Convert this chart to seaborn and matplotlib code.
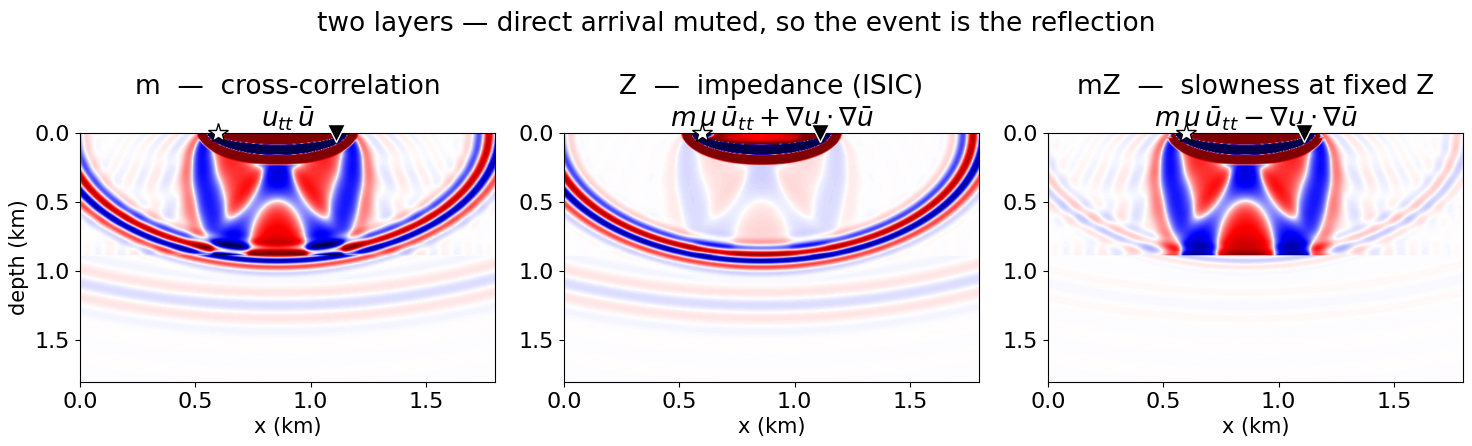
import numpy as np
import matplotlib
matplotlib.use("Agg")
import matplotlib.pyplot as plt
import seaborn as sns

# geometry (km)
src_x = 0.60
rec_x = 1.11
interface_z = 0.89
x_range = [0.0, 1.8]
z_range = [0.0, 1.8]
tick_vals = [0.0, 0.5, 1.0, 1.5]

# reflection isochron: centre (sum of distances), period, envelope width
iso_ring = [1.88, 0.19, 0.15]
# lower-layer rings: centre of curvature depth, radius, period, width
low_ring = [-1.10, 2.35, 0.20, 0.17]
# rabbit-ear Fresnel zone: period, phase, decay width, tail weight, tail decay
ear_zone = [0.125, 0.80, 0.095, 0.06, 0.3]
# muted direct arrival under the surface: period in sqrt(t), first peak, cutoff
top_band = [0.27, 0.1055, 0.40]

suptitle = "two layers \u2014 direct arrival muted, so the event is the reflection"
panel_titles = [
    "m  \u2014  cross-correlation\n$u_{tt}\\,\\bar{u}$",
    "Z  \u2014  impedance (ISIC)\n$m\\,u\\,\\bar{u}_{tt} + \\nabla u \\cdot \\nabla \\bar{u}$",
    "mZ  \u2014  slowness at fixed Z\n$m\\,u\\,\\bar{u}_{tt} - \\nabla u \\cdot \\nabla \\bar{u}$",
]
iso_gain = [0.80, 0.85, 0.10]
ear_gain = [1.30, 0.20, 1.30]
low_gain = [0.07, 0.07, 0.015]
top_gain = [6.0, 6.0, 6.0]

sns.set_style("ticks")
plt.rcParams["font.family"] = ["DejaVu Sans"]
for key in ["text.color", "axes.labelcolor", "xtick.color", "ytick.color", "axes.edgecolor"]:
    plt.rcParams[key] = "black"

n = 361
x = np.linspace(x_range[0], x_range[1], n)
z = np.linspace(z_range[0], z_range[1], n)
X, Z = np.meshgrid(x, z)
xm = 0.5 * (src_x + rec_x)

d_s = np.hypot(X - src_x, Z)
d_r = np.hypot(X - rec_x, Z)
d_s_img = np.hypot(X - src_x, Z - 2 * interface_z)
d_r_img = np.hypot(X - rec_x, Z - 2 * interface_z)
path = np.hypot(rec_x - src_x, 2 * interface_z)

# isochron of the reflection
tau = d_s + d_r - iso_ring[0]
iso = -np.sin(2 * np.pi * tau / iso_ring[1]) * np.exp(-(tau / iso_ring[2]) ** 2)

# weak rings in the lower layer
r_low = np.hypot(X - xm, Z - low_ring[0]) - low_ring[1]
low = -np.cos(2 * np.pi * r_low / low_ring[2]) * np.exp(-(r_low / low_ring[3]) ** 2)
low = low * (Z > interface_z)


def fresnel(t):
    t = np.maximum(t, 0)
    decay = (1 - ear_zone[3]) * np.exp(-(t / ear_zone[2]) ** 4) + ear_zone[3] * np.exp(-t / ear_zone[4])
    return np.cos(2 * np.pi * t / ear_zone[0] + ear_zone[1]) * decay


ear = fresnel(d_s + d_r_img - path) + fresnel(d_s_img + d_r - path)
ear = ear / (1 + 1.5 * np.abs(ear))
zr = Z / interface_z
ear_amp = 1.0 - 0.2 * zr + 0.8 * zr ** 8 * np.exp(-((X - xm) / 0.35) ** 2)
ear = ear * ear_amp * (Z < interface_z)

# remnant of the muted direct wave
u = np.sqrt(np.maximum(d_s + d_r - (rec_x - src_x), 0))
band = np.cos(2 * np.pi * (np.maximum(u, top_band[1]) - top_band[1]) / top_band[0])
env = np.where(u < top_band[2], 1.0, np.exp(-((u - top_band[2]) / 0.022) ** 2))
blob = np.exp(-(d_s / 0.035) ** 2)
ends = np.exp(-(np.minimum(d_s, d_r) / 0.1) ** 2)
first_zero = top_band[1] + top_band[0] / 4

fields = []
for i in range(3):
    top = band * env
    if i == 2:
        outer = u > top_band[1] + top_band[0]
        fade = np.clip((Z - 0.03) / 0.07, 0, 1)
        top = np.where(outer, top * fade, top)
    top = top_gain[i] * top
    if i == 1:
        inner = 0.5 + 1.0 * ends + 2.5 * (u / first_zero) ** 8
        top = np.where(u < first_zero, inner, top)
    top = top * (1 - blob) - top_gain[i] * blob
    fields.append(top + iso_gain[i] * iso + ear_gain[i] * ear + low_gain[i] * low)

fig, axes = plt.subplots(1, 3, figsize=(14.72, 4.46), dpi=100)
fig.subplots_adjust(left=0.0543, right=0.994, bottom=0.1435, top=0.702, wspace=0.166)
for i, ax in enumerate(axes):
    ax.imshow(fields[i], cmap="seismic", vmin=-1, vmax=1, aspect="auto",
              extent=[x_range[0], x_range[1], z_range[1], z_range[0]],
              interpolation="bilinear")
    ax.plot(src_x, 0.0, marker="*", ms=15, mfc="white", mec="black", mew=1.0,
            clip_on=False, zorder=5)
    ax.plot(rec_x, 0.0, marker="v", ms=13, mfc="black", mec="white", mew=1.0,
            clip_on=False, zorder=5)
    ax.set_xlim(x_range)
    ax.set_ylim(z_range[1], z_range[0])
    ax.set_xticks(tick_vals)
    ax.set_yticks(tick_vals)
    ax.tick_params(labelsize=16)
    ax.set_title(panel_titles[i], fontsize=19, pad=4)
    ax.set_xlabel("x (km)", fontsize=15)
axes[0].set_ylabel("depth (km)", fontsize=15)
fig.suptitle(suptitle, fontsize=19, y=0.975)
fig.savefig("out.png", dpi=100)
